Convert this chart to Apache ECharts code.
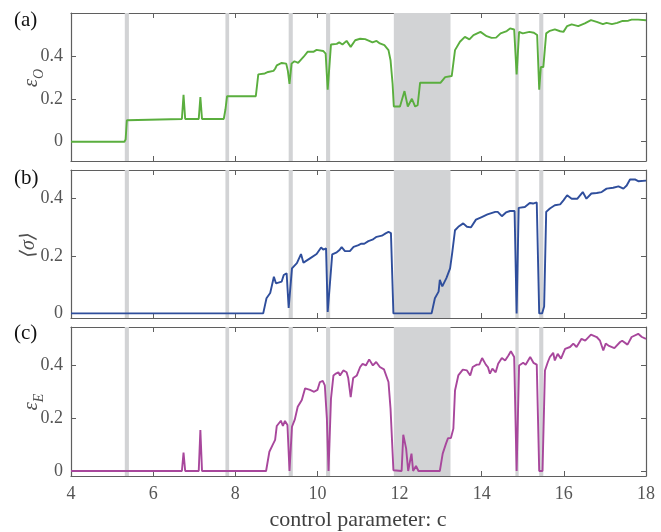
<!DOCTYPE html>
<html>
<head>
<meta charset="utf-8">
<script src="https://cdn.jsdelivr.net/npm/echarts@6/dist/echarts.min.js"></script>
<style>html,body{margin:0;padding:0;background:#fff}#c{width:661px;height:532px}</style>
</head>
<body>
<div id="c"></div>
<script>
// ---- data ----
const cA = [4,5.30,5.33,5.36,5.40,6.70,6.74,6.78,7.11,7.15,7.19,7.72,7.76,7.80,8.50,8.56,8.72,8.80,8.93,8.97,9.01,9.13,9.24,9.28,9.32,9.37,9.44,9.53,9.66,9.76,9.90,9.98,10.14,10.20,10.25,10.33,10.47,10.53,10.61,10.71,10.81,10.92,11.04,11.16,11.26,11.34,11.44,11.52,11.63,11.73,11.78,11.83,11.86,12.01,12.12,12.20,12.30,12.38,12.44,12.50,13.00,13.11,13.27,13.35,13.47,13.59,13.70,13.80,13.97,14.12,14.24,14.35,14.46,14.61,14.69,14.79,14.85,14.91,15.00,15.16,15.27,15.35,15.40,15.44,15.50,15.57,15.66,15.78,15.91,15.99,16.08,16.19,16.35,16.51,16.66,16.80,16.95,17.04,17.17,17.30,17.43,17.57,17.65,17.81,18];
const vA = [0,0,0.01,0.10,0.106,0.106,0.219,0.106,0.106,0.208,0.106,0.106,0.15,0.212,0.212,0.314,0.318,0.325,0.33,0.34,0.356,0.367,0.364,0.33,0.27,0.364,0.375,0.367,0.395,0.419,0.419,0.428,0.423,0.411,0.242,0.453,0.456,0.463,0.453,0.470,0.442,0.473,0.480,0.478,0.470,0.463,0.470,0.458,0.450,0.427,0.380,0.270,0.164,0.164,0.236,0.164,0.20,0.164,0.17,0.275,0.275,0.301,0.306,0.427,0.466,0.489,0.477,0.497,0.512,0.492,0.484,0.485,0.505,0.516,0.528,0.523,0.314,0.512,0.505,0.512,0.508,0.497,0.242,0.348,0.348,0.505,0.517,0.524,0.515,0.512,0.539,0.547,0.539,0.552,0.567,0.559,0.548,0.554,0.548,0.554,0.563,0.564,0.569,0.569,0.566];

const cB = [4,8.68,8.76,8.85,8.94,8.99,9.13,9.18,9.25,9.30,9.38,9.50,9.60,9.66,9.82,9.98,10.09,10.14,10.21,10.25,10.28,10.36,10.47,10.53,10.59,10.67,10.79,10.88,11.00,11.06,11.14,11.24,11.34,11.44,11.57,11.66,11.73,11.79,11.85,12.78,12.86,12.95,12.98,13.04,13.14,13.23,13.28,13.35,13.43,13.55,13.64,13.74,13.86,14.00,14.14,14.33,14.39,14.49,14.59,14.69,14.80,14.85,14.90,15.05,15.17,15.25,15.34,15.40,15.47,15.52,15.57,15.66,15.78,15.91,15.99,16.08,16.19,16.33,16.46,16.55,16.67,16.80,16.92,17.04,17.20,17.33,17.45,17.53,17.61,17.73,17.81,18];
const vB = [0,0,0.053,0.071,0.128,0.105,0.111,0.134,0.140,0.019,0.157,0.175,0.207,0.177,0.192,0.207,0.230,0.222,0.227,0.005,0.007,0.206,0.213,0.220,0.231,0.217,0.217,0.232,0.238,0.243,0.243,0.252,0.257,0.267,0.271,0.279,0.284,0.280,0,0,0.053,0.076,0.117,0.094,0.123,0.157,0.209,0.290,0.302,0.314,0.302,0.300,0.327,0.336,0.345,0.354,0.354,0.339,0.352,0.357,0.357,0,0.368,0.371,0.385,0.383,0.387,0,0,0.024,0.354,0.366,0.377,0.380,0.394,0.412,0.400,0.400,0.423,0.400,0.418,0.420,0.423,0.435,0.438,0.443,0.435,0.446,0.467,0.467,0.461,0.463];

const cC = [4,6.70,6.74,6.78,7.11,7.15,7.19,8.75,8.83,8.91,8.97,9.01,9.11,9.16,9.21,9.27,9.32,9.38,9.45,9.52,9.62,9.70,9.82,9.92,10.00,10.06,10.13,10.18,10.23,10.27,10.33,10.39,10.45,10.51,10.55,10.63,10.71,10.75,10.81,10.87,10.96,11.04,11.10,11.18,11.26,11.35,11.43,11.52,11.62,11.73,11.78,11.85,12.05,12.09,12.16,12.21,12.25,12.29,12.33,12.40,12.46,12.98,13.05,13.13,13.18,13.25,13.31,13.35,13.43,13.54,13.64,13.72,13.78,13.88,13.94,14.01,14.10,14.15,14.20,14.26,14.34,14.40,14.49,14.57,14.65,14.71,14.79,14.85,14.91,15.01,15.07,15.18,15.26,15.34,15.40,15.48,15.54,15.61,15.66,15.74,15.78,15.85,15.93,16.03,16.15,16.23,16.31,16.43,16.52,16.66,16.80,16.88,16.96,17.02,17.10,17.23,17.37,17.42,17.55,17.65,17.81,17.90,18];
const vC = [0,0,0.07,0,0,0.156,0,0,0.073,0.099,0.118,0.171,0.191,0.171,0.19,0.175,0,0.168,0.196,0.244,0.270,0.314,0.308,0.301,0.308,0.338,0.342,0.325,0.20,0,0.275,0.363,0.370,0.375,0.363,0.382,0.375,0.353,0.281,0.353,0.363,0.395,0.407,0.401,0.424,0.401,0.414,0.395,0.386,0.338,0.237,0.003,0,0.138,0.085,0,0.034,0.066,0,0.019,0,0,0.066,0.104,0.125,0.125,0.161,0.306,0.363,0.385,0.382,0.363,0.395,0.404,0.404,0.429,0.404,0.395,0.370,0.389,0.375,0.407,0.429,0.420,0.439,0.455,0.433,0,0.401,0.411,0.404,0.433,0.411,0.404,0,0,0.382,0.414,0.433,0.449,0.420,0.445,0.427,0.464,0.471,0.484,0.471,0.502,0.495,0.518,0.509,0.495,0.458,0.484,0.475,0.467,0.490,0.495,0.480,0.509,0.521,0.509,0.502];

const bandStart = [5.31,7.76,9.30,10.21,11.86,14.82,15.40];
const bandEnd   = [5.41,7.85,9.40,10.31,13.24,14.90,15.50];

const xTicks = [4,6,8,10,12,14,16,18];
const yTicks = [0,0.2,0.4];
const yRanges = [[-0.09,0.6],[-0.016,0.5],[-0.019,0.547]];
const panelLetters = ['(a)','(b)','(c)'];

// ---- chart ----
const serif = "'Liberation Serif','DejaVu Serif',serif";
const axisCol = '#5f5f5f';
const tickLblCol = '#555555';
const grids = [
  {left:71, width:575, top:13, height:148},
  {left:71, width:575, top:170, height:148},
  {left:71, width:575, top:327, height:149}
];
const xAxes = [], yAxes = [];
grids.forEach((g,i)=>{
  const last = i === 2;
  xAxes.push({type:'value', gridIndex:i, position:'bottom', min:4, max:18, interval:2,
    axisLine:{show:true, onZero:false, lineStyle:{color:axisCol, width:1.2}},
    axisTick:{show:true, inside:true, length:5, lineStyle:{color:axisCol}},
    axisLabel:{show:last, color:tickLblCol, fontSize:18, fontFamily:serif, margin:9},
    splitLine:{show:false}});
  xAxes.push({type:'value', gridIndex:i, position:'top', min:4, max:18, interval:2,
    axisLine:{show:true, onZero:false, lineStyle:{color:axisCol, width:1.2}},
    axisTick:{show:true, inside:true, length:5, lineStyle:{color:axisCol}},
    axisLabel:{show:false}, splitLine:{show:false}});
  yAxes.push({type:'value', gridIndex:i, position:'left', min:yRanges[i][0], max:yRanges[i][1],
    axisLine:{show:true, onZero:false, lineStyle:{color:axisCol, width:1.2}},
    axisTick:{show:true, inside:true, length:5, customValues:yTicks, lineStyle:{color:axisCol}},
    axisLabel:{show:true, customValues:yTicks, color:tickLblCol, fontSize:18, fontFamily:serif, margin:8,
      formatter:v=> (Math.abs(v)<1e-9?'0':String(+v.toFixed(1)))},
    splitLine:{show:false}});
  yAxes.push({type:'value', gridIndex:i, position:'right', min:yRanges[i][0], max:yRanges[i][1],
    axisLine:{show:true, onZero:false, lineStyle:{color:axisCol, width:1.2}},
    axisTick:{show:true, inside:true, length:5, customValues:yTicks, lineStyle:{color:axisCol}},
    axisLabel:{show:false}, splitLine:{show:false}});
});

const bands = bandStart.map((s,k)=>[{xAxis:s},{xAxis:bandEnd[k]}]);
const pairs = (cs,vs)=>cs.map((c,k)=>[c,vs[k]]);
const mk = (i, cs, vs, color)=>({
  type:'line', xAxisIndex:i*2, yAxisIndex:i*2, data:pairs(cs,vs), showSymbol:false,
  lineStyle:{color, width:1.9}, itemStyle:{color}, z:3, silent:true,
  markArea:{silent:true, itemStyle:{color:'#d2d3d5'}, data:bands}
});

const option = {
  animation:false,
  backgroundColor:'#ffffff',
  grid:grids, xAxis:xAxes, yAxis:yAxes,
  series:[
    mk(0,cA,vA,'#5aae3e'),
    mk(1,cB,vB,'#2f4e9c'),
    mk(2,cC,vC,'#a8479c')
  ],
  graphic:[
    {type:'text', left:14, top:10, style:{text:panelLetters[0], fontSize:21, fontFamily:serif, fill:'#111'}},
    {type:'text', left:14, top:168, style:{text:panelLetters[1], fontSize:21, fontFamily:serif, fill:'#111'}},
    {type:'text', left:14, top:323, style:{text:panelLetters[2], fontSize:21, fontFamily:serif, fill:'#111'}},
    {type:'text', x:31, y:78, rotation:Math.PI/2, style:{text:'{e|ε}{s|O}', align:'center', verticalAlign:'middle',
      rich:{e:{fontSize:21, fontStyle:'italic', fontFamily:serif, fill:'#505050', verticalAlign:'bottom'},
            s:{fontSize:14, fontStyle:'italic', fontFamily:serif, fill:'#505050', verticalAlign:'bottom', padding:[0,0,-5,0]}}}},
    {type:'text', x:29, y:245, rotation:Math.PI/2, style:{text:'⟨σ⟩', align:'center', verticalAlign:'middle',
      fontSize:20, fontStyle:'italic', fontFamily:serif, fill:'#505050'}},
    {type:'text', x:31, y:402, rotation:Math.PI/2, style:{text:'{e|ε}{s|E}', align:'center', verticalAlign:'middle',
      rich:{e:{fontSize:21, fontStyle:'italic', fontFamily:serif, fill:'#505050', verticalAlign:'bottom'},
            s:{fontSize:14, fontStyle:'italic', fontFamily:serif, fill:'#505050', verticalAlign:'bottom', padding:[0,0,-5,0]}}}},
    {type:'text', x:358, y:520, style:{text:'control parameter: c', align:'center', verticalAlign:'middle',
      fontSize:22, fontFamily:serif, fill:'#404040'}}
  ]
};
const chart = echarts.init(document.getElementById('c'), null, {renderer:'canvas'});
chart.setOption(option);
</script>
</body>
</html>
